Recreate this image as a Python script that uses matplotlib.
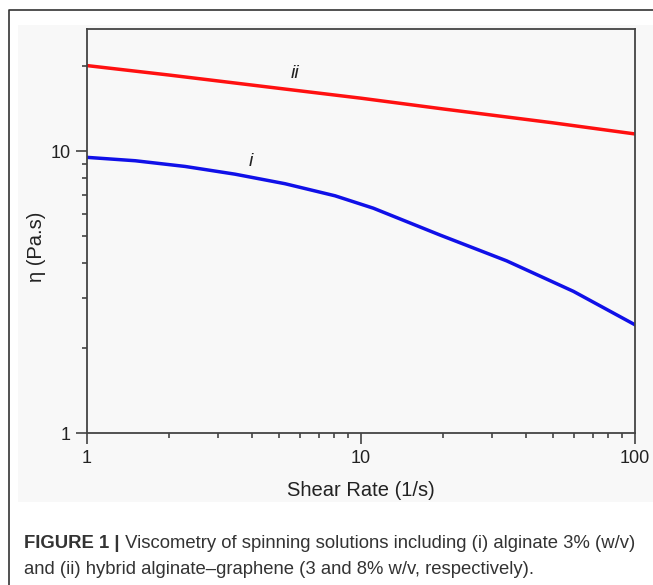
import matplotlib.pyplot as plt
from matplotlib.patches import Rectangle
from matplotlib.lines import Line2D
from matplotlib.ticker import LogLocator, FixedLocator, NullFormatter

plt.rcParams['font.family'] = ['Liberation Sans', 'DejaVu Sans']

# curve i: alginate 3% (w/v)
shear_i = [1, 1.5, 2.28, 3.47, 5.28, 8.04, 11.1, 19.4, 34.0, 59.6, 100]
eta_i = [9.5, 9.24, 8.82, 8.28, 7.66, 6.94, 6.27, 5.04, 4.08, 3.18, 2.42]

# curve ii: hybrid alginate-graphene
shear_ii = [1, 2, 5, 10, 20, 50, 100]
eta_ii = [20.1, 18.6, 16.7, 15.4, 14.1, 12.6, 11.5]

xticks = [1, 10, 100]
yticks = [1, 10]

W, H = 653, 585
fig = plt.figure(figsize=(W / 100, H / 100), dpi=100)
fig.patch.set_facecolor('white')

# light grey panel behind the plot
fig.patches.append(Rectangle((18 / W, 1 - 502 / H), 1 - 18 / W, (502 - 25) / H,
                             transform=fig.transFigure, facecolor='#f8f8f8',
                             edgecolor='none', zorder=-2))
# outer frame (top and left edges)
fig.lines.append(Line2D([9 / W, 9 / W, 1], [0, 1 - 10 / H, 1 - 10 / H],
                        transform=fig.transFigure, color='#333333', lw=1.2,
                        zorder=-1))

ax = fig.add_axes([87 / W, 1 - 433 / H, (635 - 87) / W, (433 - 29) / H])
ax.set_facecolor('#f8f8f8')

ax.plot(shear_ii, eta_ii, color='#ff1010', lw=2.5)
ax.plot(shear_i, eta_i, color='#1010e8', lw=2.5)

ax.set_xscale('log')
ax.set_yscale('log')
ax.set_xlim(1, 100)
ax.set_ylim(1, 27.1)

ax.xaxis.set_major_locator(FixedLocator(xticks))
ax.yaxis.set_major_locator(FixedLocator(yticks))
ax.set_xticklabels([str(t) for t in xticks])
ax.set_yticklabels([str(t) for t in yticks])
ax.xaxis.set_minor_locator(LogLocator(base=10, subs=range(2, 10)))
ax.yaxis.set_minor_locator(LogLocator(base=10, subs=range(2, 10)))
ax.xaxis.set_minor_formatter(NullFormatter())
ax.yaxis.set_minor_formatter(NullFormatter())

ax.tick_params(which='major', direction='out', length=8, width=1.1,
               color='#333333', labelsize=13, labelcolor='#222222', pad=4)
ax.tick_params(which='minor', direction='out', length=3.5, width=1.1,
               color='#333333')
for s in ax.spines.values():
    s.set_color('#444444')
    s.set_linewidth(1.3)

ax.set_xlabel('Shear Rate (1/s)', fontsize=14.5, color='#222222', labelpad=10)
ax.set_ylabel('η (Pa.s)', fontsize=14.5, color='#222222')
ax.yaxis.set_label_coords(-0.074, 0.46)

ax.text(3.96, 9.21, 'i', fontsize=14, style='italic', color='#222222',
        ha='center', va='center')
ax.text(5.74, 18.9, 'ii', fontsize=14, style='italic', color='#222222',
        ha='center', va='center')

# caption
t1 = fig.text(24 / W, 1 - 543 / H, 'FIGURE 1 |', fontsize=13.3, fontweight='bold',
              color='#333333', va='center', ha='left')
ax.annotate(' Viscometry of spinning solutions including (i) alginate 3% (w/v)',
            xy=(1, 0.5), xycoords=t1, va='center', ha='left', fontsize=13.3,
            color='#333333', annotation_clip=False)
fig.text(24 / W, 1 - 569 / H,
         'and (ii) hybrid alginate–graphene (3 and 8% w/v, respectively).',
         fontsize=13.3, color='#333333', va='center', ha='left')

fig.savefig('out.png', dpi=100)
